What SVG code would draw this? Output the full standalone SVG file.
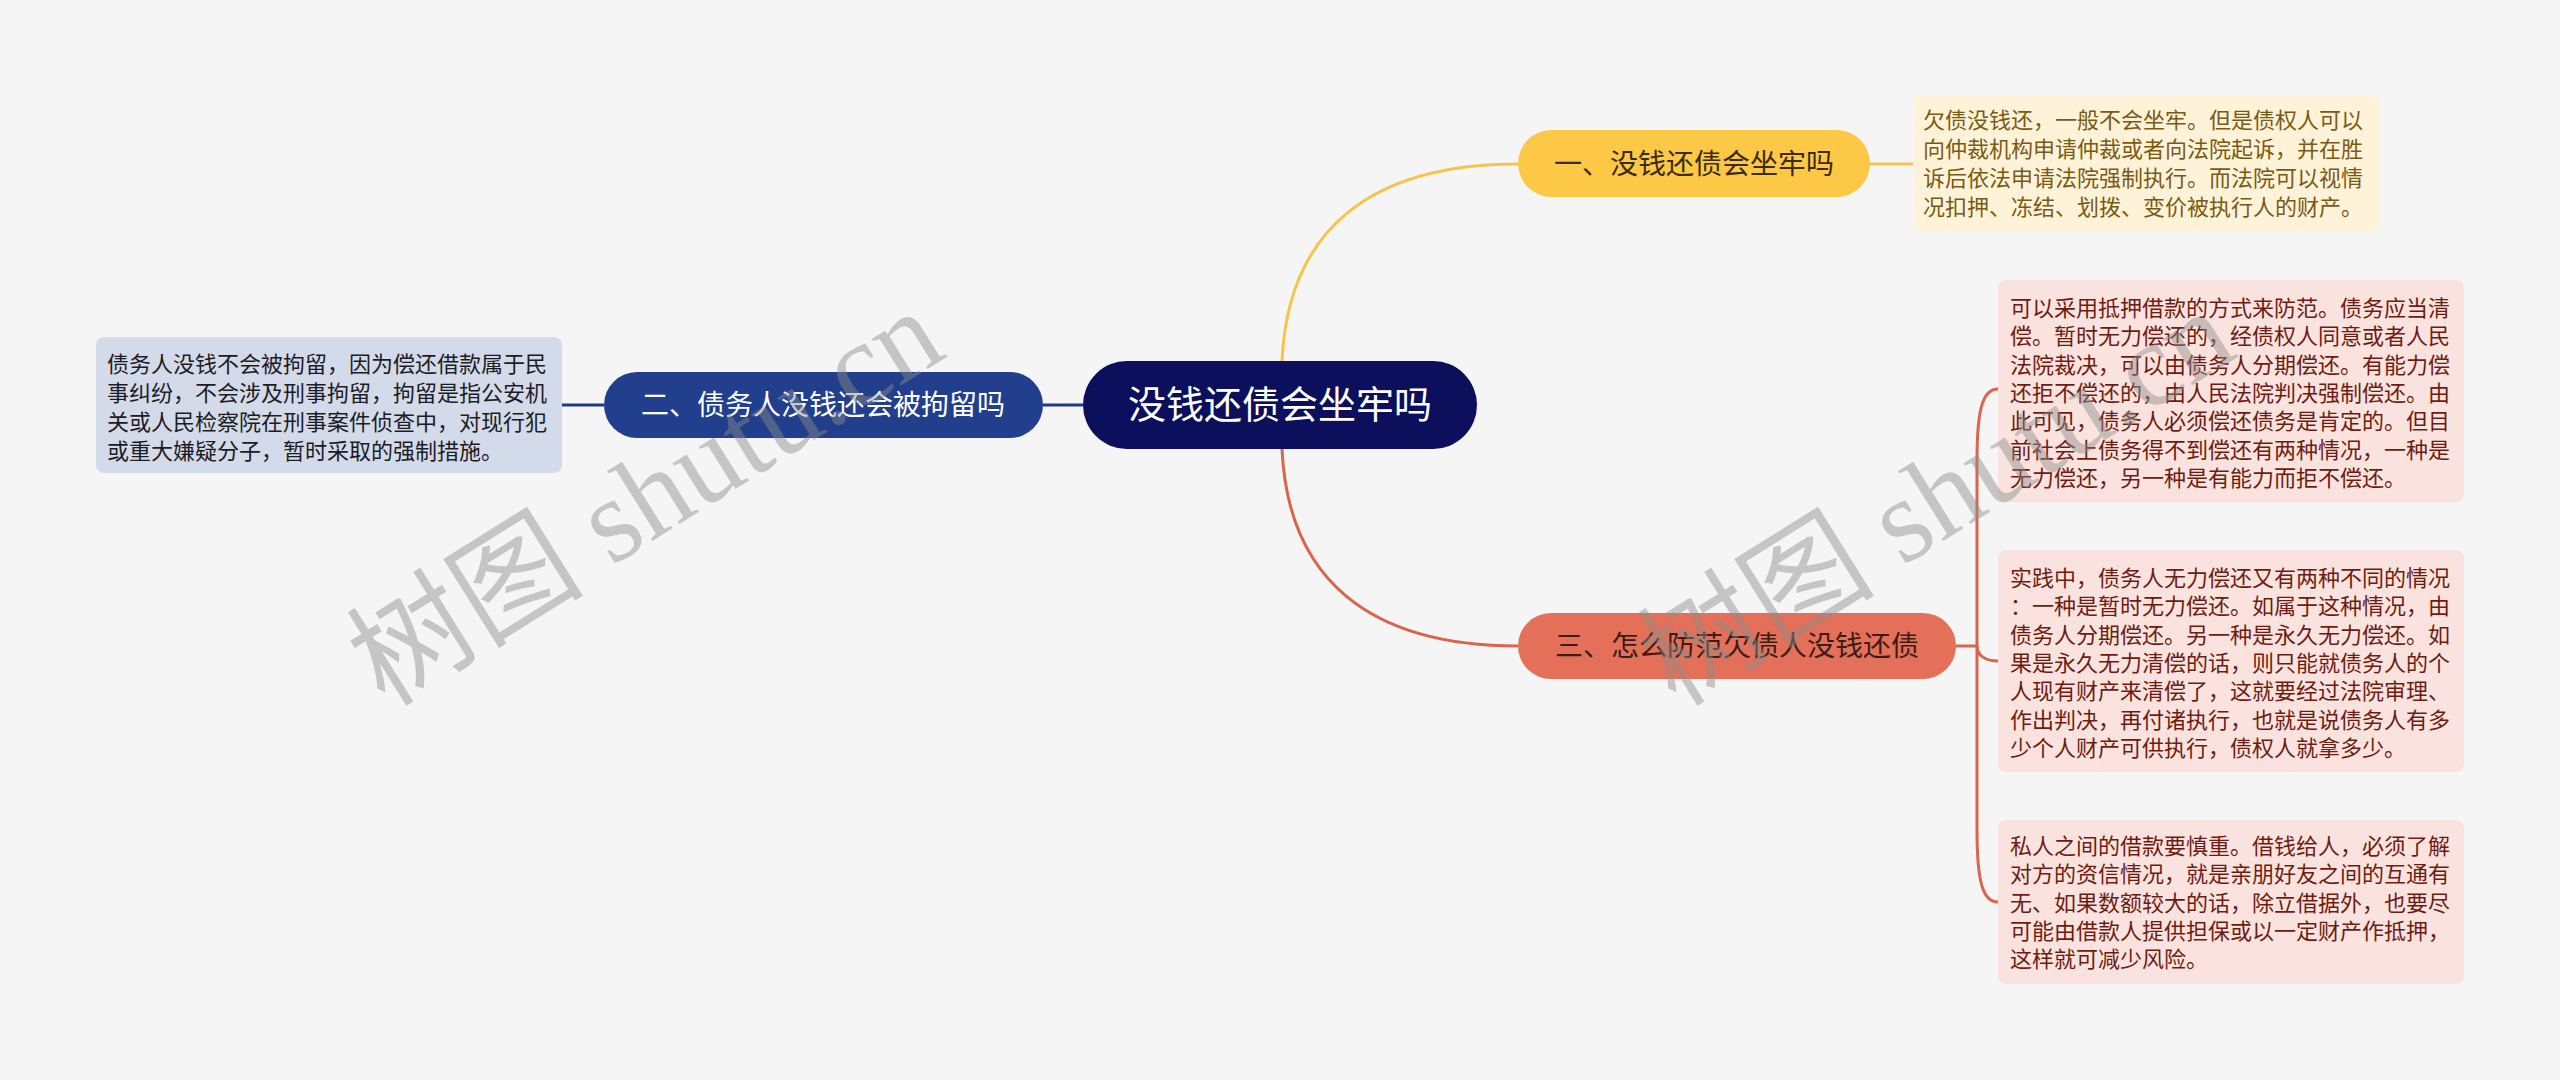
<svg xmlns="http://www.w3.org/2000/svg" width="2560" height="1080" viewBox="0 0 2560 1080">
<style>
.cjk{font-family:"Noto Sans CJK SC","Microsoft YaHei",sans-serif}
.main{fill:#ffffff;font-size:38px}
.t2{fill:#ffffff;font-size:28px}
.t1{fill:#3a2c0c;font-size:28px}
.t3{fill:#3a1d16;font-size:28px}
.note{font-size:22px}
.ny{fill:#7a5a12}
.np{fill:#6e1c12}
.nb{fill:#1c1c24}
.wm{font-family:"Liberation Serif","Noto Sans CJK SC",serif;font-size:120px;fill:#8c8c8c;opacity:0.45}
.cy{fill:none;stroke:#F5C54A;stroke-width:3}
.co{fill:none;stroke:#D9654F;stroke-width:3}
.cb{fill:none;stroke:#1F3A80;stroke-width:3}
</style>
<rect x="0" y="0" width="2560" height="1080" fill="#F5F5F5"/>
<g id="connectors">
<path class="cy" d="M1282,361 C1288,230 1370,164 1518,164"/>
<path class="co" d="M1282,449 C1288,580 1370,646 1518,646"/>
<path class="cb" d="M1043,405 H1083"/>
<path class="cb" d="M562,405 H604"/>
<path class="cy" d="M1870,164 H1913"/>
<path class="co" d="M1956,646 H1977"/>
<path class="co" d="M1998,389 C1984,389 1977,405 1977,460 V646"/>
<path class="co" d="M1977,646 C1977,655 1985,661 1998,661"/>
<path class="co" d="M1998,902 C1984,902 1977,886 1977,830 V646"/>
</g>
<g id="root">
<rect x="1083" y="361" width="394" height="88" rx="44" fill="#0B0F5C"/>
<text class="cjk main" x="1280" y="418" text-anchor="middle">没钱还债会坐牢吗</text>
</g>
<g id="n1">
<rect x="1518" y="130" width="352" height="67" rx="33.5" fill="#FCC845"/>
<text class="cjk t1" x="1694" y="174" text-anchor="middle">一、没钱还债会坐牢吗</text>
</g>
<g id="n1-note">
<rect x="1913" y="96" width="466" height="136" rx="8" fill="#FEF3D9"/>
<text class="cjk note ny" x="1923" y="128">欠债没钱还，一般不会坐牢。但是债权人可以</text>
<text class="cjk note ny" x="1923" y="157">向仲裁机构申请仲裁或者向法院起诉，并在胜</text>
<text class="cjk note ny" x="1923" y="186">诉后依法申请法院强制执行。而法院可以视情</text>
<text class="cjk note ny" x="1923" y="215">况扣押、冻结、划拨、变价被执行人的财产。</text>
</g>
<g id="n2">
<rect x="604" y="372" width="439" height="66" rx="33" fill="#213F8C"/>
<text class="cjk t2" x="823" y="415" text-anchor="middle">二、债务人没钱还会被拘留吗</text>
</g>
<g id="n2-note">
<rect x="96" y="337" width="466" height="136" rx="8" fill="#D3DAEA"/>
<text class="cjk note nb" x="107" y="372">债务人没钱不会被拘留，因为偿还借款属于民</text>
<text class="cjk note nb" x="107" y="401">事纠纷，不会涉及刑事拘留，拘留是指公安机</text>
<text class="cjk note nb" x="107" y="430">关或人民检察院在刑事案件侦查中，对现行犯</text>
<text class="cjk note nb" x="107" y="459">或重大嫌疑分子，暂时采取的强制措施。</text>
</g>
<g id="n3">
<rect x="1518" y="613" width="438" height="66" rx="33" fill="#E5705A"/>
<text class="cjk t3" x="1737" y="656" text-anchor="middle">三、怎么防范欠债人没钱还债</text>
</g>
<g id="n3-note1">
<rect x="1998" y="280" width="466" height="222" rx="8" fill="#FAE3DE"/>
<text class="cjk note np" x="2010" y="316">可以采用抵押借款的方式来防范。债务应当清</text>
<text class="cjk note np" x="2010" y="344.3">偿。暂时无力偿还的，经债权人同意或者人民</text>
<text class="cjk note np" x="2010" y="372.6">法院裁决，可以由债务人分期偿还。有能力偿</text>
<text class="cjk note np" x="2010" y="400.9">还拒不偿还的，由人民法院判决强制偿还。由</text>
<text class="cjk note np" x="2010" y="429.2">此可见，债务人必须偿还债务是肯定的。但目</text>
<text class="cjk note np" x="2010" y="457.5">前社会上债务得不到偿还有两种情况，一种是</text>
<text class="cjk note np" x="2010" y="485.8">无力偿还，另一种是有能力而拒不偿还。</text>
</g>
<g id="n3-note2">
<rect x="1998" y="550" width="466" height="222" rx="8" fill="#FAE3DE"/>
<text class="cjk note np" x="2010" y="586">实践中，债务人无力偿还又有两种不同的情况</text>
<text class="cjk note np" x="2010" y="614.3">：一种是暂时无力偿还。如属于这种情况，由</text>
<text class="cjk note np" x="2010" y="642.6">债务人分期偿还。另一种是永久无力偿还。如</text>
<text class="cjk note np" x="2010" y="670.9">果是永久无力清偿的话，则只能就债务人的个</text>
<text class="cjk note np" x="2010" y="699.2">人现有财产来清偿了，这就要经过法院审理、</text>
<text class="cjk note np" x="2010" y="727.5">作出判决，再付诸执行，也就是说债务人有多</text>
<text class="cjk note np" x="2010" y="755.8">少个人财产可供执行，债权人就拿多少。</text>
</g>
<g id="n3-note3">
<rect x="1998" y="820" width="466" height="164" rx="8" fill="#FAE3DE"/>
<text class="cjk note np" x="2010" y="854">私人之间的借款要慎重。借钱给人，必须了解</text>
<text class="cjk note np" x="2010" y="882.3">对方的资信情况，就是亲朋好友之间的互通有</text>
<text class="cjk note np" x="2010" y="910.6">无、如果数额较大的话，除立借据外，也要尽</text>
<text class="cjk note np" x="2010" y="938.9">可能由借款人提供担保或以一定财产作抵押，</text>
<text class="cjk note np" x="2010" y="967.2">这样就可减少风险。</text>
</g>
<g id="watermarks">
<text class="wm" x="385" y="708" transform="rotate(-32 385 708)" textLength="665" lengthAdjust="spacingAndGlyphs">树图 shutu.cn</text>
<text class="wm" x="1676" y="708" transform="rotate(-32 1676 708)" textLength="665" lengthAdjust="spacingAndGlyphs">树图 shutu.cn</text>
</g>
</svg>
